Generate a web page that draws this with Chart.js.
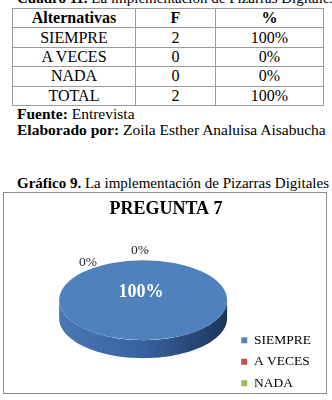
<!DOCTYPE html>
<html>
<head>
<meta charset="utf-8">
<script src="https://cdn.jsdelivr.net/npm/chart.js@4"></script>
<style>
  html, body { margin:0; padding:0; background:#fff; width:332px; height:400px; overflow:hidden; }
  body { position:relative; font-family:'Liberation Serif','Times New Roman',serif; color:#000; }
  .cap { position:absolute; left:17px; white-space:nowrap; font-size:15.5px; line-height:16px; }
  table { position:absolute; left:12px; top:8px; border-collapse:collapse; font-size:16px; }
  td, th { border:1px solid #9a9a9a; text-align:center; padding:0; height:18.4px; line-height:16px; }
  th { font-weight:bold; }
  #box { position:absolute; left:3px; top:192px; width:322px; height:200px; border:1px solid #8c8c8c; }
  #c { position:absolute; left:0; top:0; }
</style>
</head>
<body>
<div class="cap" style="top:-10px; font-size:15px;"><b>Cuadro 11.</b> La implementación de Pizarras Digitales</div>
<table>
  <tr><th style="width:122px">Alternativas</th><th style="width:79px">F</th><th style="width:107px">%</th></tr>
  <tr><td>SIEMPRE</td><td>2</td><td>100%</td></tr>
  <tr><td>A VECES</td><td>0</td><td>0%</td></tr>
  <tr><td>NADA</td><td>0</td><td>0%</td></tr>
  <tr><td>TOTAL</td><td>2</td><td>100%</td></tr>
</table>
<div class="cap" style="top:106px;"><b>Fuente:</b> Entrevista</div>
<div class="cap" style="top:122px;"><b>Elaborado por:</b> Zoila Esther Analuisa Aisabucha</div>
<div class="cap" style="top:175px; font-size:15px;"><b>Gráfico 9.</b> La implementación de Pizarras Digitales</div>
<div id="box"><canvas id="c" width="322" height="210"></canvas></div>
<script>
const categories = ['SIEMPRE', 'A VECES', 'NADA'];
const frequencies = [2, 0, 0];
const sliceColors = ['#4f81bd', '#c0504d', '#9bbb59'];
const chartTitle = 'PREGUNTA 7';

const SERIF = "'Liberation Serif','Times New Roman',serif";
const TILT = 40 / 84;   // vertical squash of the pie
const DEPTH = 18;       // thickness of the 3D side
const LIFT = 9;         // upward shift of the drawn ellipse
const SHIFT_X = 21;     // rightward shift of the drawn ellipse

function visibleRanges(s, e) {
  const out = [];
  for (let k = -2; k <= 2; k++) {
    const a = Math.max(s, k * 2 * Math.PI), b = Math.min(e, k * 2 * Math.PI + Math.PI);
    if (b > a) out.push([a, b]);
  }
  return out;
}

const pie3d = {
  id: 'pie3d',
  beforeDatasetsDraw(chart) {
    const ctx = chart.ctx;
    const meta = chart.getDatasetMeta(0);
    const a0 = meta.data[0];
    const cx = a0.x + SHIFT_X, cy = a0.y - LIFT, r = a0.outerRadius, ry = r * TILT;
    meta.data.forEach((arc) => {
      if (arc.circumference <= 0) return;
      visibleRanges(arc.startAngle, arc.endAngle).forEach(([s, e]) => {
        ctx.save();
        ctx.beginPath();
        const n = 80;
        for (let i = 0; i <= n; i++) {
          const t = s + (e - s) * i / n;
          const x = cx + r * Math.cos(t), y = cy + ry * Math.sin(t);
          if (i === 0) ctx.moveTo(x, y); else ctx.lineTo(x, y);
        }
        for (let i = n; i >= 0; i--) {
          const t = s + (e - s) * i / n;
          ctx.lineTo(cx + r * Math.cos(t), cy + ry * Math.sin(t) + DEPTH);
        }
        ctx.closePath();
        const g = ctx.createLinearGradient(cx - r, 0, cx + r, 0);
        g.addColorStop(0, '#4a78b3');
        g.addColorStop(0.5, '#3762a0');
        g.addColorStop(1, '#1d3659');
        ctx.fillStyle = g;
        ctx.fill();
        ctx.restore();
      });
    });
    ctx.save();
    ctx.translate(cx, cy);
    ctx.scale(1, TILT);
    ctx.translate(-a0.x, -a0.y);
  },
  afterDatasetsDraw(chart) {
    const ctx = chart.ctx;
    ctx.restore();
    const meta = chart.getDatasetMeta(0);
    const a0 = meta.data[0];
    const cx = a0.x + SHIFT_X, cy = a0.y - LIFT, r = a0.outerRadius, ry = r * TILT;
    const data = chart.data.datasets[0].data;
    const total = data.reduce((p, v) => p + v, 0);
    ctx.save();
    ctx.textAlign = 'center';
    ctx.textBaseline = 'middle';
    meta.data.forEach((arc, i) => {
      const pct = Math.round(data[i] / total * 100) + '%';
      if (data[i] > 0) {
        ctx.font = 'bold 18px ' + SERIF;
        ctx.fillStyle = '#ffffff';
        ctx.fillText(pct, cx - 2, cy - ry * 0.2);
      } else {
        const t = arc.startAngle;
        const px = cx + r * Math.cos(t), py = cy + ry * Math.sin(t);
        ctx.font = '13.5px ' + SERIF;
        ctx.fillStyle = '#262626';
        const k = data.length - 1 - i; // last zero slice sits on top
        ctx.fillText(pct, px - 3 - 52 * k, py - 10 + 12 * k);
      }
    });
    ctx.restore();
  }
};

new Chart(document.getElementById('c'), {
  type: 'pie',
  data: {
    labels: categories,
    datasets: [{ data: frequencies, backgroundColor: sliceColors, borderWidth: 0 }]
  },
  options: {
    responsive: false,
    animation: false,
    radius: 84,
    layout: { padding: { left: 7, right: 5, top: 0, bottom: 5 } },
    plugins: {
      tooltip: { enabled: false },
      title: {
        display: true, text: chartTitle, color: '#000',
        font: { family: SERIF, size: 18, weight: 'bold' },
        padding: { top: 5.7, bottom: 0 }
      },
      legend: {
        position: 'right', align: 'end',
        labels: {
          boxWidth: 6, boxHeight: 6, padding: 8, color: '#000',
          font: { family: SERIF, size: 13.5 }
        }
      }
    }
  },
  plugins: [pie3d]
});
</script>
</body>
</html>
